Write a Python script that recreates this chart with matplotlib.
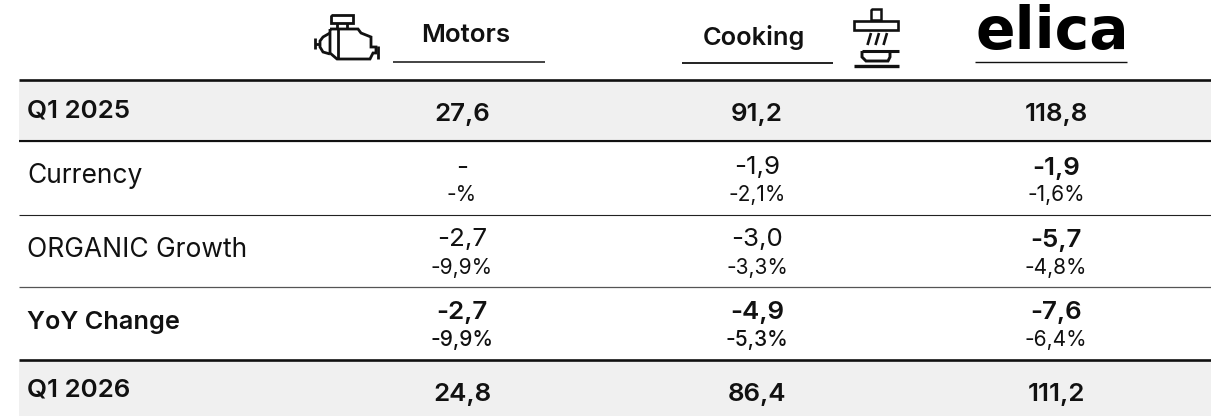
import matplotlib
matplotlib.use("Agg")
import matplotlib.pyplot as plt
from matplotlib.patches import Rectangle

plt.rcParams['font.family'] = ['Inter', 'DejaVu Sans']

columns = ["Motors", "Cooking"]
row_labels = ["Q1 2025", "Currency", "ORGANIC Growth", "YoY Change", "Q1 2026"]
motors = ["27,6", "-", "-2,7", "-2,7", "24,8"]
cooking = ["91,2", "-1,9", "-3,0", "-4,9", "86,4"]
elica = ["118,8", "-1,9", "-5,7", "-7,6", "111,2"]
motors_pct = ["", "-%", "-9,9%", "-9,9%", ""]
cooking_pct = ["", "-2,1%", "-3,3%", "-5,3%", ""]
elica_pct = ["", "-1,6%", "-4,8%", "-6,4%", ""]

W, H = 1211, 416
fig = plt.figure(figsize=(W / 100, H / 100), dpi=100)
ax = fig.add_axes([0, 0, 1, 1])
ax.set_xlim(0, W)
ax.set_ylim(H, 0)
ax.axis("off")

INK = "#111111"
GREY = "#f0f0f0"

# shaded rows
ax.add_patch(Rectangle((19, 80), W - 19, 59, color=GREY, lw=0))
ax.add_patch(Rectangle((19, 360), W - 19, 56, color=GREY, lw=0))

# rules
ax.plot([19, W], [79.5, 79.5], color=INK, lw=1.9, solid_capstyle="butt")
ax.plot([19, W], [140.5, 140.5], color=INK, lw=1.6, solid_capstyle="butt")
ax.plot([19, W], [214.5, 214.5], color="#222222", lw=0.8, solid_capstyle="butt")
ax.plot([19, W], [286.5, 286.5], color="#555555", lw=0.9, solid_capstyle="butt")
ax.plot([19, W], [359.5, 359.5], color=INK, lw=1.9, solid_capstyle="butt")

# header underlines
ax.plot([393, 545], [61.5, 61.5], color=INK, lw=1.1, solid_capstyle="butt")
ax.plot([682, 833], [62.5, 62.5], color=INK, lw=1.3, solid_capstyle="butt")
ax.plot([975, 1127], [61.5, 61.5], color=INK, lw=1.0, solid_capstyle="butt")

# headers
ax.text(466, 35, columns[0], ha="center", va="center", fontsize=18.7, fontweight="semibold", color=INK)
ax.text(754, 37, columns[1], ha="center", va="center", fontsize=18.3, fontweight="semibold", color=INK)
ax.text(1052, 33, "elica", ha="center", va="center", fontsize=42, fontweight="bold",
        family="DejaVu Sans", color="#000000")

# motor icon
def stroke(xs, ys, lw=2.0):
    ax.plot(xs, ys, color=INK, lw=lw, solid_joinstyle="miter", solid_capstyle="butt")

stroke([331, 353, 353, 331, 331], [15, 15, 23, 23, 15])
stroke([337, 337], [23, 29])
stroke([347, 347], [23, 29])
stroke([330, 358, 361, 371, 371, 376, 376, 373, 370, 337, 330, 330],
       [29, 29, 33, 37, 47, 47, 53, 53, 59, 59, 53, 29])
stroke([338, 338], [29, 59])
stroke([330, 323, 320, 320, 323, 330], [33, 37, 41, 47, 52, 54])
stroke([315, 320], [44, 44])
stroke([315, 315], [38, 49])
stroke([378, 378], [46, 59])

# hood icon
stroke([871, 881, 881, 871, 871], [9, 9, 20, 20, 9], lw=1.8)
ax.add_patch(Rectangle((854, 21), 44, 9, fill=False, ec=INK, lw=1.9))
for x0 in [871, 879, 887]:
    stroke([x0 - 3.5, x0], [45, 33], lw=1.9)
stroke([862, 862, 866, 888, 890, 890], [51, 57, 61, 61, 57, 51], lw=2.1)
stroke([862, 899], [50.5, 50.5], lw=2.2)
stroke([854, 899], [65.5, 65.5], lw=2.4)

# body
row_y = [111, 176, 250, 322, 390]
val_y = [114, 168, 240, 313, 394]
pct_y = [0, 195, 268, 340, 0]
label_weight = ["semibold", "normal", "normal", "semibold", "semibold"]
label_size = [18.7, 19, 19, 18.2, 18.7]
col_x = [462, 757, 1056]

for i, label in enumerate(row_labels):
    ax.text(27, row_y[i], label, ha="left", va="center", fontsize=label_size[i],
            fontweight=label_weight[i], color=INK)

for c, (vals, pcts) in enumerate([(motors, motors_pct), (cooking, cooking_pct), (elica, elica_pct)]):
    for i in range(len(row_labels)):
        bold = i in (0, 3, 4) or c == 2
        ax.text(col_x[c], val_y[i], vals[i], ha="center", va="center", fontsize=18.7,
                fontweight="semibold" if bold else "normal", color=INK)
        if pcts[i]:
            ax.text(col_x[c], pct_y[i], pcts[i], ha="center", va="center", fontsize=15,
                    fontweight="medium" if (i == 3 and c < 2) else "normal", color=INK)

fig.savefig("out.png", dpi=100)
